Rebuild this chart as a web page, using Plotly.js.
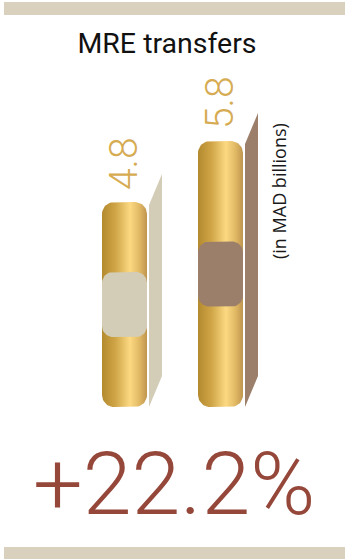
<!DOCTYPE html>
<html><head><meta charset="utf-8">
<script src="https://cdn.plot.ly/plotly-3.0.1.min.js"></script>
<style>html,body{margin:0;padding:0;background:#fff;}#chart{width:345px;height:559px;}</style>
</head><body><div id="chart"></div>
<script>
// ---- data ----
const categories = ['Previous year', 'Current year'];
const values = [4.8, 5.8];
const valueLabels = ['4.8', '5.8'];
const accentColors = ['#d3cdb7', '#9b7f6a'];
const titleText = 'MRE transfers';
const unitText = '(in MAD billions)';
const changeLabel = '+22.2%';

// ---- geometry ----
const W = 345, H = 559;
const PXY = 61;        // px per value unit
const BASE = 1.44;     // value at bar bottom
const BASE_PX = 407;   // pixel row of bar bottom
const PXX = 96;        // px per category step
const X0_PX = 124.5;   // pixel column of first category
const yMin = BASE - (H - BASE_PX) / PXY, yMax = BASE + BASE_PX / PXY;
const xMin = -X0_PX / PXX, xMax = (W - X0_PX) / PXX;
const dx = px => px / PXX, dy = px => px / PXY;
const hw = dx(22.5);

function roundRect(x0, x1, y0, y1, r) {
  const rx = dx(r), ry = dy(r), xs = [], ys = [], n = 12;
  const corners = [[x1 - rx, y1 - ry, 0], [x0 + rx, y1 - ry, 90], [x0 + rx, y0 + ry, 180], [x1 - rx, y0 + ry, 270]];
  corners.forEach(([cx, cy, a0]) => {
    for (let i = 0; i <= n; i++) {
      const a = (a0 + 90 * i / n) * Math.PI / 180;
      xs.push(cx + rx * Math.cos(a)); ys.push(cy + ry * Math.sin(a));
    }
  });
  xs.push(xs[0]); ys.push(ys[0]);
  return { xs, ys };
}

const gold = [[0, '#b48a2f'], [0.3, '#cfa547'], [0.62, '#fcd982'], [0.82, '#e3bb66'], [1, '#c0954f']];
const traces = [];
const annotations = [];
values.forEach((v, i) => {
  const px0 = i + hw + dx(2), px1 = i + hw + dx(15);
  const topL = v - dy(3);
  traces.push({
    type: 'scatter', mode: 'lines', x: [px0, px1, px1, px0, px0],
    y: [BASE, BASE + dy(31), topL + dy(31), topL, BASE],
    fill: 'toself', fillcolor: accentColors[i], line: { width: 0 }, hoverinfo: 'skip', name: categories[i]
  });
  const b = roundRect(i - hw, i + hw, BASE, v, 12);
  traces.push({
    type: 'scatter', mode: 'lines', x: b.xs, y: b.ys, fill: 'toself',
    fillgradient: { type: 'horizontal', colorscale: gold },
    line: { width: 0 }, hoverinfo: 'skip', name: categories[i]
  });
  const mid = (BASE + v) / 2;
  const s = roundRect(i - hw, i + hw, mid - dy(32.5), mid + dy(32.5), 11);
  traces.push({
    type: 'scatter', mode: 'lines', x: s.xs, y: s.ys, fill: 'toself',
    fillcolor: accentColors[i], line: { width: 0 }, hoverinfo: 'skip', name: categories[i]
  });
  annotations.push({
    x: i - dx(1), y: v, xref: 'x', yref: 'y', text: valueLabels[i], showarrow: false,
    textangle: -90, xanchor: 'center', yanchor: 'bottom', yshift: 10,
    font: { family: 'Roboto', weight: 300, size: 39, color: '#d6ab52' }
  });
});

annotations.push({
  x: 279 / W, y: 1 - 191 / H, xref: 'paper', yref: 'paper', text: unitText, showarrow: false,
  textangle: -90, xanchor: 'center', yanchor: 'middle',
  font: { family: 'Open Sans', size: 18, color: '#1a1a1a' }
});
annotations.push({
  x: 174 / W, y: 1 - 483 / H, xref: 'paper', yref: 'paper', text: changeLabel, showarrow: false,
  xanchor: 'center', yanchor: 'middle',
  font: { family: 'Roboto', weight: 300, size: 88, color: '#95473a' }
});

const layout = {
  width: W, height: H, margin: { l: 0, r: 0, t: 0, b: 0 },
  paper_bgcolor: '#ffffff', plot_bgcolor: '#ffffff', showlegend: false,
  title: { text: titleText, x: 167 / W, xanchor: 'center', xref: 'paper', yref: 'container',
           y: 1 - 43 / H, yanchor: 'middle', font: { family: 'Roboto', size: 28.5, color: '#111111' } },
  xaxis: { range: [xMin, xMax], visible: false, fixedrange: true },
  yaxis: { range: [yMin, yMax], visible: false, fixedrange: true },
  shapes: [
    { type: 'rect', xref: 'paper', yref: 'paper', x0: 4 / W, x1: 1, y0: 1 - 15 / H, y1: 1 - 2 / H, fillcolor: '#d9d1bd', line: { width: 0 }, layer: 'below' },
    { type: 'rect', xref: 'paper', yref: 'paper', x0: 4 / W, x1: 1, y0: 0, y1: 1 - 547 / H, fillcolor: '#d9d1bd', line: { width: 0 }, layer: 'below' }
  ],
  annotations: annotations
};
Plotly.newPlot('chart', traces, layout, { staticPlot: true, displayModeBar: false });
</script></body></html>
